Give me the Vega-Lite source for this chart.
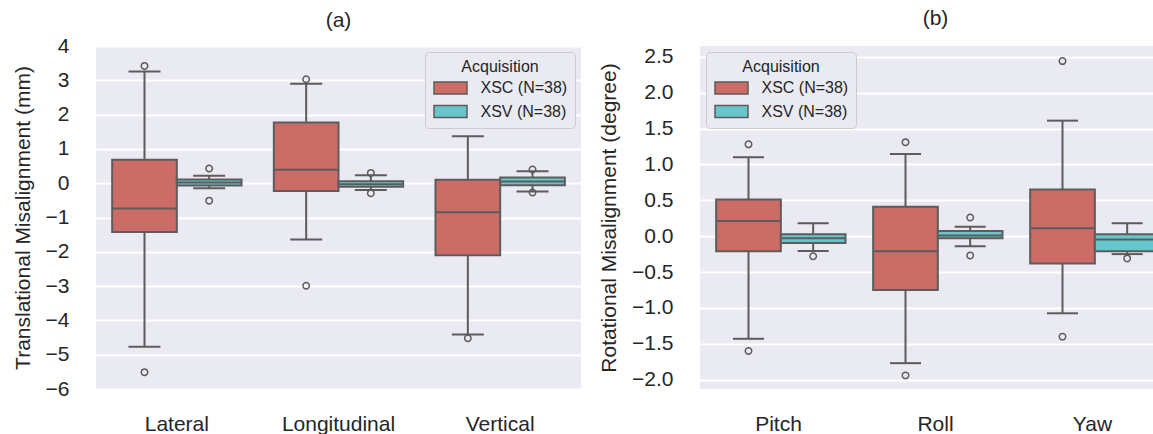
{
  "$schema": "https://vega.github.io/schema/vega-lite/v6.json",
  "padding": {"left": 12, "top": 7, "right": 0, "bottom": 0},
  "background": "white",
  "spacing": 17,
  "config": {
    "font": "Liberation Sans",
    "view": {"fill": "#EAEAF2", "stroke": null},
    "axis": {
      "labelFont": "Liberation Sans", "labelFontSize": 21, "labelColor": "#262626",
      "titleFont": "Liberation Sans", "titleFontSize": 21, "titleFontWeight": "normal", "titleColor": "#262626",
      "domain": false, "ticks": false, "labelOverlap": false
    },
    "axisY": {"grid": true, "gridColor": "#FFFFFF", "gridWidth": 2, "labelPadding": 27, "titlePadding": 12, "tickCount": 12},
    "axisX": {"grid": false, "labelPadding": 24, "labelAngle": 0},
    "title": {"font": "Liberation Sans", "fontSize": 21, "fontWeight": "normal", "color": "#262626", "offset": 17},
    "legend": {
      "titleFont": "Liberation Sans", "titleFontSize": 16, "titleFontWeight": "normal", "titleColor": "#262626",
      "labelFont": "Liberation Sans", "labelFontSize": 16, "labelColor": "#262626",
      "titleAnchor": "middle", "fillColor": "#EAEAF2", "strokeColor": "#CCCCCC", "padding": 7, "cornerRadius": 4,
      "symbolType": "M-2.75,-1H2.75V1H-2.75Z", "symbolSize": 144, "symbolOffset": 10.5, "symbolStrokeColor": "#5C5C5C", "symbolStrokeWidth": 1.5,
      "labelOffset": 22, "offset": 6, "rowPadding": 5.5, "titlePadding": 5
    }
  },
  "datasets": {
    "boxes": [
      {"panel": "a", "axis": "Lateral", "group": "XSC (N=38)", "lower": -4.77, "q1": -1.42, "median": -0.74, "q3": 0.685, "upper": 3.26},
      {"panel": "a", "axis": "Lateral", "group": "XSV (N=38)", "lower": -0.145, "q1": -0.066, "median": 0.02, "q3": 0.107, "upper": 0.22},
      {"panel": "a", "axis": "Longitudinal", "group": "XSC (N=38)", "lower": -1.64, "q1": -0.23, "median": 0.39, "q3": 1.77, "upper": 2.9},
      {"panel": "a", "axis": "Longitudinal", "group": "XSV (N=38)", "lower": -0.2, "q1": -0.1, "median": -0.03, "q3": 0.058, "upper": 0.23},
      {"panel": "a", "axis": "Vertical", "group": "XSC (N=38)", "lower": -4.41, "q1": -2.1, "median": -0.85, "q3": 0.1, "upper": 1.37},
      {"panel": "a", "axis": "Vertical", "group": "XSV (N=38)", "lower": -0.24, "q1": -0.058, "median": 0.05, "q3": 0.165, "upper": 0.35},
      {"panel": "b", "axis": "Pitch", "group": "XSC (N=38)", "lower": -1.43, "q1": -0.21, "median": 0.21, "q3": 0.51, "upper": 1.1},
      {"panel": "b", "axis": "Pitch", "group": "XSV (N=38)", "lower": -0.206, "q1": -0.095, "median": -0.03, "q3": 0.025, "upper": 0.18},
      {"panel": "b", "axis": "Roll", "group": "XSC (N=38)", "lower": -1.77, "q1": -0.75, "median": -0.21, "q3": 0.41, "upper": 1.145},
      {"panel": "b", "axis": "Roll", "group": "XSV (N=38)", "lower": -0.14, "q1": -0.03, "median": 0.01, "q3": 0.072, "upper": 0.13},
      {"panel": "b", "axis": "Yaw", "group": "XSC (N=38)", "lower": -1.075, "q1": -0.38, "median": 0.11, "q3": 0.65, "upper": 1.61},
      {"panel": "b", "axis": "Yaw", "group": "XSV (N=38)", "lower": -0.25, "q1": -0.21, "median": -0.045, "q3": 0.025, "upper": 0.18}
    ],
    "outliers": [
      {"panel": "a", "axis": "Lateral", "group": "XSC (N=38)", "value": 3.42},
      {"panel": "a", "axis": "Lateral", "group": "XSC (N=38)", "value": -5.51},
      {"panel": "a", "axis": "Lateral", "group": "XSV (N=38)", "value": 0.43},
      {"panel": "a", "axis": "Lateral", "group": "XSV (N=38)", "value": -0.51},
      {"panel": "a", "axis": "Longitudinal", "group": "XSC (N=38)", "value": 3.03},
      {"panel": "a", "axis": "Longitudinal", "group": "XSC (N=38)", "value": -2.99},
      {"panel": "a", "axis": "Longitudinal", "group": "XSV (N=38)", "value": 0.3},
      {"panel": "a", "axis": "Longitudinal", "group": "XSV (N=38)", "value": -0.29},
      {"panel": "a", "axis": "Vertical", "group": "XSC (N=38)", "value": -4.52},
      {"panel": "a", "axis": "Vertical", "group": "XSV (N=38)", "value": 0.4},
      {"panel": "a", "axis": "Vertical", "group": "XSV (N=38)", "value": -0.27},
      {"panel": "b", "axis": "Pitch", "group": "XSC (N=38)", "value": 1.28},
      {"panel": "b", "axis": "Pitch", "group": "XSC (N=38)", "value": -1.6},
      {"panel": "b", "axis": "Pitch", "group": "XSV (N=38)", "value": -0.28},
      {"panel": "b", "axis": "Roll", "group": "XSC (N=38)", "value": 1.31},
      {"panel": "b", "axis": "Roll", "group": "XSC (N=38)", "value": -1.94},
      {"panel": "b", "axis": "Roll", "group": "XSV (N=38)", "value": 0.26},
      {"panel": "b", "axis": "Roll", "group": "XSV (N=38)", "value": -0.27},
      {"panel": "b", "axis": "Yaw", "group": "XSC (N=38)", "value": 2.44},
      {"panel": "b", "axis": "Yaw", "group": "XSC (N=38)", "value": -1.4},
      {"panel": "b", "axis": "Yaw", "group": "XSV (N=38)", "value": -0.31}
    ]
  },
  "resolve": {"scale": {"color": "independent", "x": "independent", "y": "independent"}, "legend": {"color": "independent"}},
  "hconcat": [
    {
      "width": 485, "height": 343,
      "title": {"text": "(a)", "offset": 4},
      "encoding": {
        "x": {"field": "axis", "type": "nominal", "sort": ["Lateral", "Longitudinal", "Vertical"], "scale": {"paddingInner": 0, "paddingOuter": 0}, "axis": {"title": null}},
        "xOffset": {"field": "group", "type": "nominal", "sort": ["XSC (N=38)", "XSV (N=38)"], "scale": {"paddingInner": 0, "paddingOuter": 0.25}}
      },
      "layer": [
        {
          "data": {"name": "boxes"}, "transform": [{"filter": "datum.panel == 'a'"}],
          "mark": {"type": "rule", "color": "#5C5C5C", "strokeWidth": 2},
          "encoding": {
            "y": {"field": "lower", "type": "quantitative", "scale": {"domain": [-6, 4], "nice": false, "zero": false},
              "axis": {"title": "Translational Misalignment (mm)", "values": [-6, -5, -4, -3, -2, -1, 0, 1, 2, 3, 4], "tickCount": 12, "format": "d"}},
            "y2": {"field": "upper"}
          }
        },
        {
          "data": {"name": "boxes"}, "transform": [{"filter": "datum.panel == 'a'"}],
          "mark": {"type": "bar", "stroke": "#5C5C5C", "strokeWidth": 2},
          "encoding": {
            "y": {"field": "q1", "type": "quantitative"},
            "y2": {"field": "q3"},
            "color": {"field": "group", "type": "nominal", "scale": {"domain": ["XSC (N=38)", "XSV (N=38)"], "range": ["#CC6C66", "#66C6CC"]},
              "legend": {"title": "Acquisition", "orient": "top-right"}}
          }
        },
        {
          "data": {"name": "boxes"}, "transform": [{"filter": "datum.panel == 'a'"}],
          "mark": {"type": "tick", "color": "#5C5C5C", "size": 64, "thickness": 2, "opacity": 1},
          "encoding": {"y": {"field": "median", "type": "quantitative"}}
        },
        {
          "data": {"name": "boxes"}, "transform": [{"filter": "datum.panel == 'a'"}],
          "mark": {"type": "tick", "color": "#5C5C5C", "size": 32, "thickness": 2, "opacity": 1},
          "encoding": {"y": {"field": "upper", "type": "quantitative"}}
        },
        {
          "data": {"name": "boxes"}, "transform": [{"filter": "datum.panel == 'a'"}],
          "mark": {"type": "tick", "color": "#5C5C5C", "size": 32, "thickness": 2, "opacity": 1},
          "encoding": {"y": {"field": "lower", "type": "quantitative"}}
        },
        {
          "data": {"name": "outliers"}, "transform": [{"filter": "datum.panel == 'a'"}],
          "mark": {"type": "point", "shape": "circle", "filled": false, "color": "#5C5C5C", "size": 42, "strokeWidth": 1.5, "opacity": 1},
          "encoding": {"y": {"field": "value", "type": "quantitative"}}
        }
      ]
    },
    {
      "width": 471, "height": 343,
      "title": "(b)",
      "encoding": {
        "x": {"field": "axis", "type": "nominal", "sort": ["Pitch", "Roll", "Yaw"], "scale": {"paddingInner": 0, "paddingOuter": 0}, "axis": {"title": null}},
        "xOffset": {"field": "group", "type": "nominal", "sort": ["XSC (N=38)", "XSV (N=38)"], "scale": {"paddingInner": 0, "paddingOuter": 0.25}}
      },
      "layer": [
        {
          "data": {"name": "boxes"}, "transform": [{"filter": "datum.panel == 'b'"}],
          "mark": {"type": "rule", "color": "#5C5C5C", "strokeWidth": 2},
          "encoding": {
            "y": {"field": "lower", "type": "quantitative", "scale": {"domain": [-2.13, 2.65], "nice": false, "zero": false},
              "axis": {"title": "Rotational Misalignment (degree)", "values": [-2, -1.5, -1, -0.5, 0, 0.5, 1, 1.5, 2, 2.5], "tickCount": 12, "format": ".1f"}},
            "y2": {"field": "upper"}
          }
        },
        {
          "data": {"name": "boxes"}, "transform": [{"filter": "datum.panel == 'b'"}],
          "mark": {"type": "bar", "stroke": "#5C5C5C", "strokeWidth": 2},
          "encoding": {
            "y": {"field": "q1", "type": "quantitative"},
            "y2": {"field": "q3"},
            "color": {"field": "group", "type": "nominal", "scale": {"domain": ["XSC (N=38)", "XSV (N=38)"], "range": ["#CC6C66", "#66C6CC"]},
              "legend": {"title": "Acquisition", "orient": "top-left"}}
          }
        },
        {
          "data": {"name": "boxes"}, "transform": [{"filter": "datum.panel == 'b'"}],
          "mark": {"type": "tick", "color": "#5C5C5C", "size": 63, "thickness": 2, "opacity": 1},
          "encoding": {"y": {"field": "median", "type": "quantitative"}}
        },
        {
          "data": {"name": "boxes"}, "transform": [{"filter": "datum.panel == 'b'"}],
          "mark": {"type": "tick", "color": "#5C5C5C", "size": 31, "thickness": 2, "opacity": 1},
          "encoding": {"y": {"field": "upper", "type": "quantitative"}}
        },
        {
          "data": {"name": "boxes"}, "transform": [{"filter": "datum.panel == 'b'"}],
          "mark": {"type": "tick", "color": "#5C5C5C", "size": 31, "thickness": 2, "opacity": 1},
          "encoding": {"y": {"field": "lower", "type": "quantitative"}}
        },
        {
          "data": {"name": "outliers"}, "transform": [{"filter": "datum.panel == 'b'"}],
          "mark": {"type": "point", "shape": "circle", "filled": false, "color": "#5C5C5C", "size": 42, "strokeWidth": 1.5, "opacity": 1},
          "encoding": {"y": {"field": "value", "type": "quantitative"}}
        }
      ]
    }
  ]
}
